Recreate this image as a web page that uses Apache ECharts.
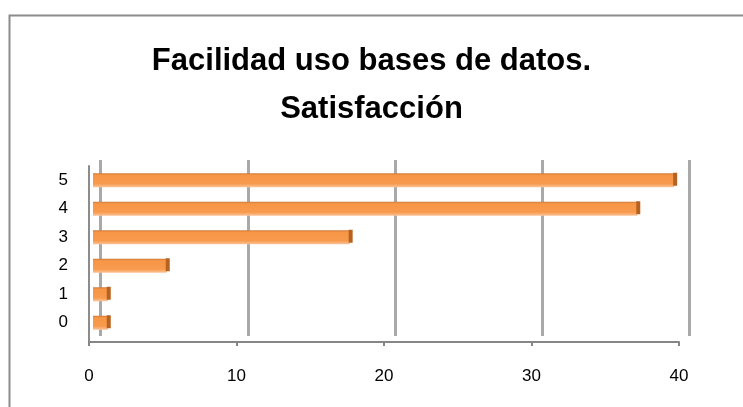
<!DOCTYPE html>
<html>
<head>
<meta charset="utf-8">
<script src="https://cdn.jsdelivr.net/npm/echarts@6/dist/echarts.min.js"></script>
<style>
  html, body { margin: 0; padding: 0; background: #fff; }
  #main { width: 743px; height: 407px; }
</style>
</head>
<body>
<div id="main"></div>
<script>
// categories (bottom to top) and values
const categories = ['0', '1', '2', '3', '4', '5'];
const values = [1, 1, 5, 17.4, 36.9, 39.4];
const xTicks = [0, 10, 20, 30, 40];

const FONT = '"Liberation Sans", Arial, sans-serif';
const xMax = xTicks[xTicks.length - 1];

let chartDom = document.getElementById('main');
let myChart = echarts.init(chartDom, null, { renderer: 'canvas' });
let option;

option = {
  backgroundColor: '#ffffff',
  animation: false,
  title: {
    text: 'Facilidad uso bases de datos.\nSatisfacción',
    left: 'center',
    top: 32,
    textStyle: {
      fontFamily: FONT,
      fontSize: 31,
      fontWeight: 'bold',
      color: '#000',
      lineHeight: 48
    }
  },
  graphic: [
    {
      type: 'rect',
      shape: { x: 9.5, y: 15.5, width: 800, height: 500 },
      style: { fill: 'none', stroke: '#8c8c8c', lineWidth: 2 },
      z: 0
    }
  ],
  grid: [
    // back wall (gridlines)
    { left: 100.5, right: 53.5, top: 160, bottom: 71, containLabel: false },
    // front axis
    { left: 89, right: 64, top: 166, bottom: 65, containLabel: false },
    // bars
    { left: 93, right: 60, top: 166, bottom: 70, containLabel: false },
    // bar end caps
    { left: 93, right: 60, top: 166, bottom: 70, containLabel: false }
  ],
  xAxis: [
    {
      gridIndex: 0, type: 'value', min: 0, max: xMax, interval: 10,
      axisLine: { show: false }, axisTick: { show: false }, axisLabel: { show: false },
      splitLine: { show: true, lineStyle: { color: '#a9a9a9', width: 3 } }
    },
    {
      gridIndex: 1, type: 'value', min: 0, max: xMax, interval: 10,
      axisLine: { show: true, lineStyle: { color: '#868686', width: 2 } },
      axisTick: { show: true, length: 4, lineStyle: { color: '#868686', width: 2 } },
      axisLabel: { show: true, margin: 26, color: '#000', fontFamily: FONT, fontSize: 17 },
      splitLine: { show: false }
    },
    {
      gridIndex: 2, type: 'value', min: 0, max: xMax,
      show: false, splitLine: { show: false }
    },
    {
      gridIndex: 3, type: 'value', min: 0, max: xMax,
      show: false, splitLine: { show: false }
    }
  ],
  yAxis: [
    {
      gridIndex: 0, type: 'category', data: categories, show: false
    },
    {
      gridIndex: 1, type: 'value', min: 0, max: 1,
      axisLine: { show: true, lineStyle: { color: '#8c8c8c', width: 2 } },
      axisTick: { show: false }, axisLabel: { show: false }, splitLine: { show: false }
    },
    {
      gridIndex: 2, type: 'category', data: categories,
      axisLine: { show: false }, axisTick: { show: false },
      axisLabel: { show: true, margin: 25, color: '#000', fontFamily: FONT, fontSize: 17 }
    },
    {
      gridIndex: 3, type: 'category', data: categories, show: false
    }
  ],
  series: [
    {
      type: 'bar',
      xAxisIndex: 2,
      yAxisIndex: 2,
      barWidth: 14,
      data: values,
      itemStyle: {
        color: new echarts.graphic.LinearGradient(0, 0, 0, 1, [
          { offset: 0, color: '#cf7a38' },
          { offset: 0.14, color: '#f79646' },
          { offset: 0.75, color: '#f89a4d' },
          { offset: 1, color: '#fbc49a' }
        ])
      }
    },
    {
      type: 'pictorialBar',
      xAxisIndex: 3,
      yAxisIndex: 3,
      symbol: 'rect',
      symbolSize: [4, 13],
      symbolPosition: 'end',
      symbolOffset: [3, -1],
      data: values,
      itemStyle: { color: '#b8621f' },
      z: 3
    }
  ]
};

option && myChart.setOption(option);
window.addEventListener('resize', () => {
  myChart.resize();
});
</script>
</body>
</html>
